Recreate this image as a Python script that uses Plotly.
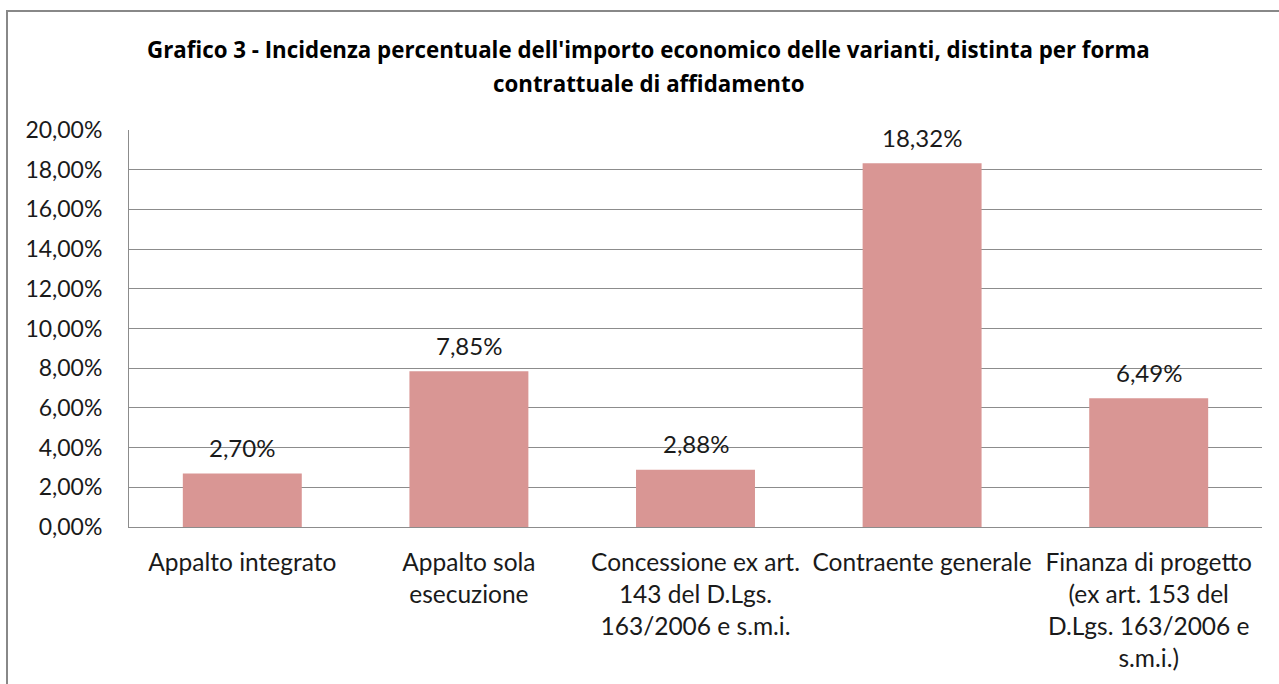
import plotly.graph_objects as go

categories = [
    "Appalto integrato",
    "Appalto sola<br>esecuzione",
    "Concessione ex art.<br>143 del D.Lgs.<br>163/2006 e s.m.i.",
    "Contraente generale",
    "Finanza di progetto<br>(ex art. 153 del<br>D.Lgs. 163/2006 e<br>s.m.i.)",
]
values = [2.70, 7.85, 2.88, 18.32, 6.49]
value_labels = ["2,70%", "7,85%", "2,88%", "18,32%", "6,49%"]
tick_vals = [0, 2, 4, 6, 8, 10, 12, 14, 16, 18, 20]
tick_text = ["0,00%", "2,00%", "4,00%", "6,00%", "8,00%", "10,00%", "12,00%",
             "14,00%", "16,00%", "18,00%", "20,00%"]
title_lines = [
    "Grafico 3 - Incidenza percentuale dell'importo economico delle varianti, distinta per forma",
    "contrattuale di affidamento",
]

FONT = "Lato"
TFONT = "Open Sans"
TXT = "#1A1A1A"
W, H = 1279, 684
L, R, T, B = 129, 17, 130, 157
pw, ph = W - L - R, H - T - B


def px_x(x):
    return (x - L) / pw


def px_y(y):
    return 1 - (y - T) / ph


fig = go.Figure(go.Bar(
    x=categories, y=values,
    marker=dict(color="#D99694", line=dict(width=0)),
    hoverinfo="skip",
))

for c, v, lab in zip(categories, values, value_labels):
    fig.add_annotation(x=c, y=v, text=lab, showarrow=False, yshift=26,
                       font=dict(family=FONT, size=24, color=TXT))

for line, yc in zip(title_lines, [49, 84]):
    fig.add_annotation(xref="paper", yref="paper", x=px_x(648), y=px_y(yc),
                       xanchor="center", yanchor="middle", showarrow=False,
                       text="<b>" + line + "</b>",
                       font=dict(family=TFONT, size=22.3, color="#000000"))

# outer chart border (cropped by the window)
fig.add_shape(type="rect", xref="paper", yref="paper",
              x0=px_x(7), x1=px_x(W + 20),
              y0=px_y(H + 20), y1=px_y(11),
              line=dict(color="#888888", width=2), layer="below")

fig.update_layout(
    width=W, height=H,
    margin=dict(l=L, r=R, t=T, b=B, pad=0),
    paper_bgcolor="white", plot_bgcolor="white",
    showlegend=False,
    bargap=0.475,
    font=dict(family=FONT, size=23, color=TXT),
)
fig.update_yaxes(range=[0, 20], tickvals=tick_vals, ticktext=tick_text,
                 showgrid=True, gridcolor="#8C8C8C", gridwidth=1,
                 showline=True, linecolor="#8C8C8C", linewidth=1,
                 ticks="", zeroline=False, ticklabelstandoff=21,
                 tickfont=dict(family=FONT, size=23, color=TXT))
fig.update_xaxes(showline=True, linecolor="#8C8C8C", linewidth=1,
                 showgrid=False, ticks="", zeroline=False, ticklabelstandoff=14,
                 tickfont=dict(family=FONT, size=24.5, color=TXT))

fig.write_html("out.html", config={"displayModeBar": False},
               post_script="document.body.style.margin='0';")
